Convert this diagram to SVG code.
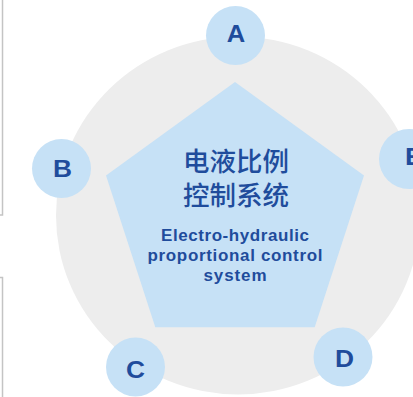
<svg xmlns="http://www.w3.org/2000/svg" width="413" height="397" viewBox="0 0 413 397">
  <style>
    .bubble { fill: #c6e1f6; }
    .letter { font-family: "Liberation Sans", Arial, sans-serif; font-weight: bold; font-size: 23.5px; fill: #1f4c9c; text-anchor: middle; }
    .cn { font-family: "Noto Sans CJK SC", sans-serif; font-weight: 500; font-size: 26.5px; fill: #1f4c9c; text-anchor: middle; }
    .en { font-family: "Liberation Sans", Arial, sans-serif; font-weight: bold; font-size: 17px; fill: #1f4c9c; text-anchor: middle; }
    .frame { fill: none; stroke: #c4c4c4; stroke-width: 1.5; }
  </style>
  <rect x="0" y="0" width="413" height="397" fill="#ffffff"/>
  <g id="side-frames">
    <rect class="frame" x="-60" y="-10" width="62.5" height="225"/>
    <rect class="frame" x="-60" y="277.5" width="62.5" height="150"/>
  </g>
  <g id="ring">
    <ellipse cx="238" cy="215.5" rx="182" ry="179" fill="#ededed"/>
  </g>
  <g id="center-node">
    <polygon points="235,82 364,175.5 314.7,327.2 155.3,327.2 106,175.5" fill="#c6e1f6"/>
    <text class="cn" x="236" y="171">电液比例</text>
    <text class="cn" x="236" y="204.5">控制系统</text>
    <text class="en" x="235" y="240.5" textLength="148" lengthAdjust="spacing">Electro-hydraulic</text>
    <text class="en" x="235" y="261" textLength="175" lengthAdjust="spacing">proportional control</text>
    <text class="en" x="235" y="281" textLength="63" lengthAdjust="spacing">system</text>
  </g>
  <g id="node-A">
    <circle class="bubble" cx="235.5" cy="35.5" r="29.5"/>
    <text class="letter" x="236" y="41.5" textLength="18.5" lengthAdjust="spacingAndGlyphs">A</text>
  </g>
  <g id="node-B">
    <circle class="bubble" cx="61.5" cy="168.5" r="29.5"/>
    <text class="letter" x="62.5" y="176.5" textLength="19" lengthAdjust="spacingAndGlyphs">B</text>
  </g>
  <g id="node-C">
    <circle class="bubble" cx="135.5" cy="367" r="29.5"/>
    <text class="letter" x="135.5" y="378" textLength="19" lengthAdjust="spacingAndGlyphs">C</text>
  </g>
  <g id="node-D">
    <circle class="bubble" cx="343" cy="357" r="29.5"/>
    <text class="letter" x="344.5" y="367" textLength="19" lengthAdjust="spacingAndGlyphs">D</text>
  </g>
  <g id="node-E">
    <circle class="bubble" cx="409" cy="159" r="30"/>
    <text class="letter" x="414" y="165" textLength="18" lengthAdjust="spacingAndGlyphs">E</text>
  </g>
</svg>
